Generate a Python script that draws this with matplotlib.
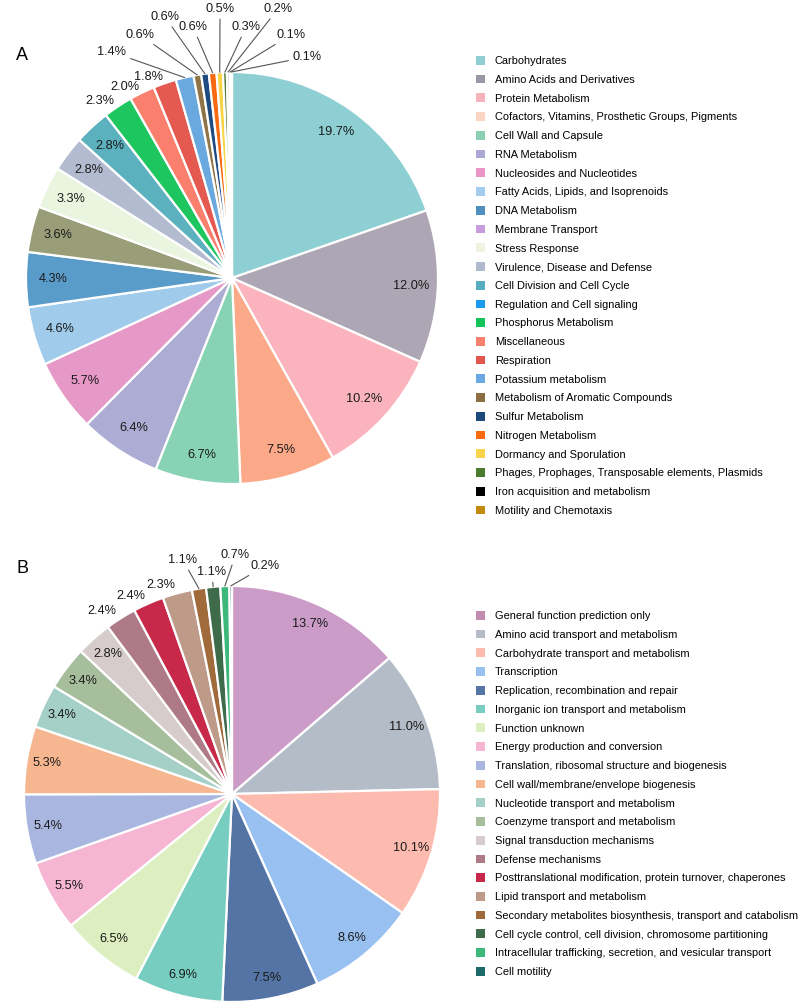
import matplotlib
matplotlib.use('Agg')
import matplotlib.pyplot as plt
from matplotlib.patches import Patch
import numpy as np

plt.rcParams['font.family'] = ['Liberation Sans', 'DejaVu Sans']

# A: subsystem categories
catA = ['Carbohydrates', 'Amino Acids and Derivatives', 'Protein Metabolism',
        'Cofactors, Vitamins, Prosthetic Groups, Pigments', 'Cell Wall and Capsule',
        'RNA Metabolism', 'Nucleosides and Nucleotides', 'Fatty Acids, Lipids, and Isoprenoids',
        'DNA Metabolism', 'Membrane Transport', 'Stress Response',
        'Virulence, Disease and Defense', 'Cell Division and Cell Cycle',
        'Regulation and Cell signaling', 'Phosphorus Metabolism', 'Miscellaneous',
        'Respiration', 'Potassium metabolism', 'Metabolism of Aromatic Compounds',
        'Sulfur Metabolism', 'Nitrogen Metabolism', 'Dormancy and Sporulation',
        'Phages, Prophages, Transposable elements, Plasmids',
        'Iron acquisition and metabolism', 'Motility and Chemotaxis']
valA = [19.7, 12.0, 10.2, 7.5, 6.7, 6.4, 5.7, 4.6, 4.3, 3.6, 3.3, 2.8, 2.8,
        2.3, 2.0, 1.8, 1.4, 0.6, 0.6, 0.6, 0.5, 0.3, 0.2, 0.1, 0.1]
# slice colours as drawn in the pie
colA = ['#8ecfd3', '#ada6b4', '#fbb4be', '#fca98a', '#88d3b5', '#acacd4', '#e698c6',
        '#a0cbeb', '#5a9cc9', '#9a9e78', '#eaf5e0', '#b2bbd0', '#5bb1be', '#1dc65e',
        '#fa7f6c', '#e45950', '#6aa9e0', '#8f7448', '#1e4b80', '#f86a12', '#f8d444',
        '#4c7a30', '#1a1a1a', '#b8860b', '#777777']
# swatch colours in legend
legA = ['#8fcfd3', '#9b97a5', '#f7b3bb', '#fbd4c4', '#8acfb2', '#aba8d6', '#e995c5',
        '#a4ccee', '#4f8fc0', '#c79cdc', '#edf5e0', '#b0bacf', '#55aec0', '#1b9bef',
        '#14c35a', '#f8806f', '#e4574f', '#6aa8e2', '#8d6d42', '#1d4a7c', '#f76a10',
        '#f8d44c', '#4a7a2e', '#000000', '#c08a10']

# B: COG categories
catB = ['General function prediction only', 'Amino acid transport and metabolism',
        'Carbohydrate transport and metabolism', 'Transcription',
        'Replication, recombination and repair', 'Inorganic ion transport and metabolism',
        'Function unknown', 'Energy production and conversion',
        'Translation, ribosomal structure and biogenesis',
        'Cell wall/membrane/envelope biogenesis', 'Nucleotide transport and metabolism',
        'Coenzyme transport and metabolism', 'Signal transduction mechanisms',
        'Defense mechanisms', 'Posttranslational modification, protein turnover, chaperones',
        'Lipid transport and metabolism',
        'Secondary metabolites biosynthesis, transport and catabolism',
        'Cell cycle control, cell division, chromosome partitioning',
        'Intracellular trafficking, secretion, and vesicular transport', 'Cell motility']
valB = [13.7, 11.0, 10.1, 8.6, 7.5, 6.9, 6.5, 5.5, 5.4, 5.3, 3.4, 3.4, 2.8,
        2.4, 2.4, 2.3, 1.1, 1.1, 0.7, 0.2]
colB = ['#cc9cc8', '#b3bcc7', '#fdbaae', '#98c0f0', '#5574a6', '#77cdc0', '#ddefc0',
        '#f6b5d3', '#a9b6e0', '#f6b690', '#a4d0c7', '#a6be9c', '#d6cccc', '#ae7a87',
        '#c8284a', '#be9a88', '#a06a3a', '#3e6b4a', '#3cb97a', '#1a6a6a']
legB = ['#c48bb0'] + colB[1:]

# layout: text spots for the leader-line labels (pie radius units)
leadA = [(-0.583, 1.097), (-0.447, 1.180), (-0.325, 1.267), (-0.189, 1.218),
         (-0.058, 1.306), (0.068, 1.218), (0.223, 1.306), (0.286, 1.180), (0.364, 1.073)]
leadB = [(-0.236, 1.125), (-0.096, 1.067), (0.017, 1.149), (0.159, 1.096)]


def drawPie(ax, vals, cols, pctd, lbld, inMin, outMin, leadPos):
    wedges, _ = ax.pie(vals, colors=cols, startangle=90, counterclock=False,
                       wedgeprops=dict(edgecolor='white', linewidth=1.6))
    k = 0
    for w, v in zip(wedges, vals):
        ang = np.deg2rad((w.theta1 + w.theta2) / 2.0)
        c, s = np.cos(ang), np.sin(ang)
        txt = '%.1f%%' % v
        if v >= inMin:
            ax.text(pctd * c, pctd * s, txt, ha='center', va='center',
                    fontsize=9.2, color='#1a1a1a')
        elif v >= outMin:
            ax.text(lbld * c, lbld * s, txt, ha='right' if c < 0 else 'left',
                    va='center', fontsize=9.2, color='#1a1a1a')
        else:
            ax.annotate(txt, xy=(c, s), xytext=leadPos[k], ha='center', va='center',
                        fontsize=9.2, color='#1a1a1a',
                        arrowprops=dict(arrowstyle='-', color='#555555', lw=0.8,
                                        shrinkA=1, shrinkB=0))
            k += 1


fig = plt.figure(figsize=(7.98, 10.05), dpi=100)

# pie A: centre (232,278) px, r 206 px, axes covers x 0..462, y 0..520
axA = fig.add_axes([0, 1 - 520 / 1005., 462 / 798., 520 / 1005.])
drawPie(axA, valA, colA, 0.87, 1.03, 2.5, 1.5, leadA)
axA.set_aspect('auto')
axA.set_xlim(-232 / 206., 230 / 206.)
axA.set_ylim((278 - 520) / 206., 278 / 206.)

# pie B: centre (232,794) px, r 208 px, axes covers y 520..1005
axB = fig.add_axes([0, 0, 462 / 798., 485 / 1005.])
drawPie(axB, valB, colB, 0.9, 1.04, 2.5, 1.5, leadB)
axB.set_aspect('auto')
axB.set_xlim(-232 / 208., 230 / 208.)
axB.set_ylim((794 - 1005) / 208., (794 - 520) / 208.)

hA = [Patch(facecolor=c, edgecolor='none') for c in legA]
fig.legend(hA, catA, loc='upper left', bbox_to_anchor=(476 / 798., 1 - 56 / 1005.),
           frameon=False, fontsize=7.9, handlelength=0.85, handleheight=0.85,
           handletextpad=0.85, labelspacing=0.78, borderpad=0, borderaxespad=0)

hB = [Patch(facecolor=c, edgecolor='none') for c in legB]
fig.legend(hB, catB, loc='upper left', bbox_to_anchor=(476 / 798., 1 - 611 / 1005.),
           frameon=False, fontsize=7.9, handlelength=0.85, handleheight=0.85,
           handletextpad=0.85, labelspacing=0.78, borderpad=0, borderaxespad=0)

fig.text(22 / 798., 1 - 55 / 1005., 'A', fontsize=13, ha='center', va='center')
fig.text(22 / 798., 1 - 568 / 1005., 'B', fontsize=13, ha='center', va='center')

fig.savefig('out.png', dpi=100)
